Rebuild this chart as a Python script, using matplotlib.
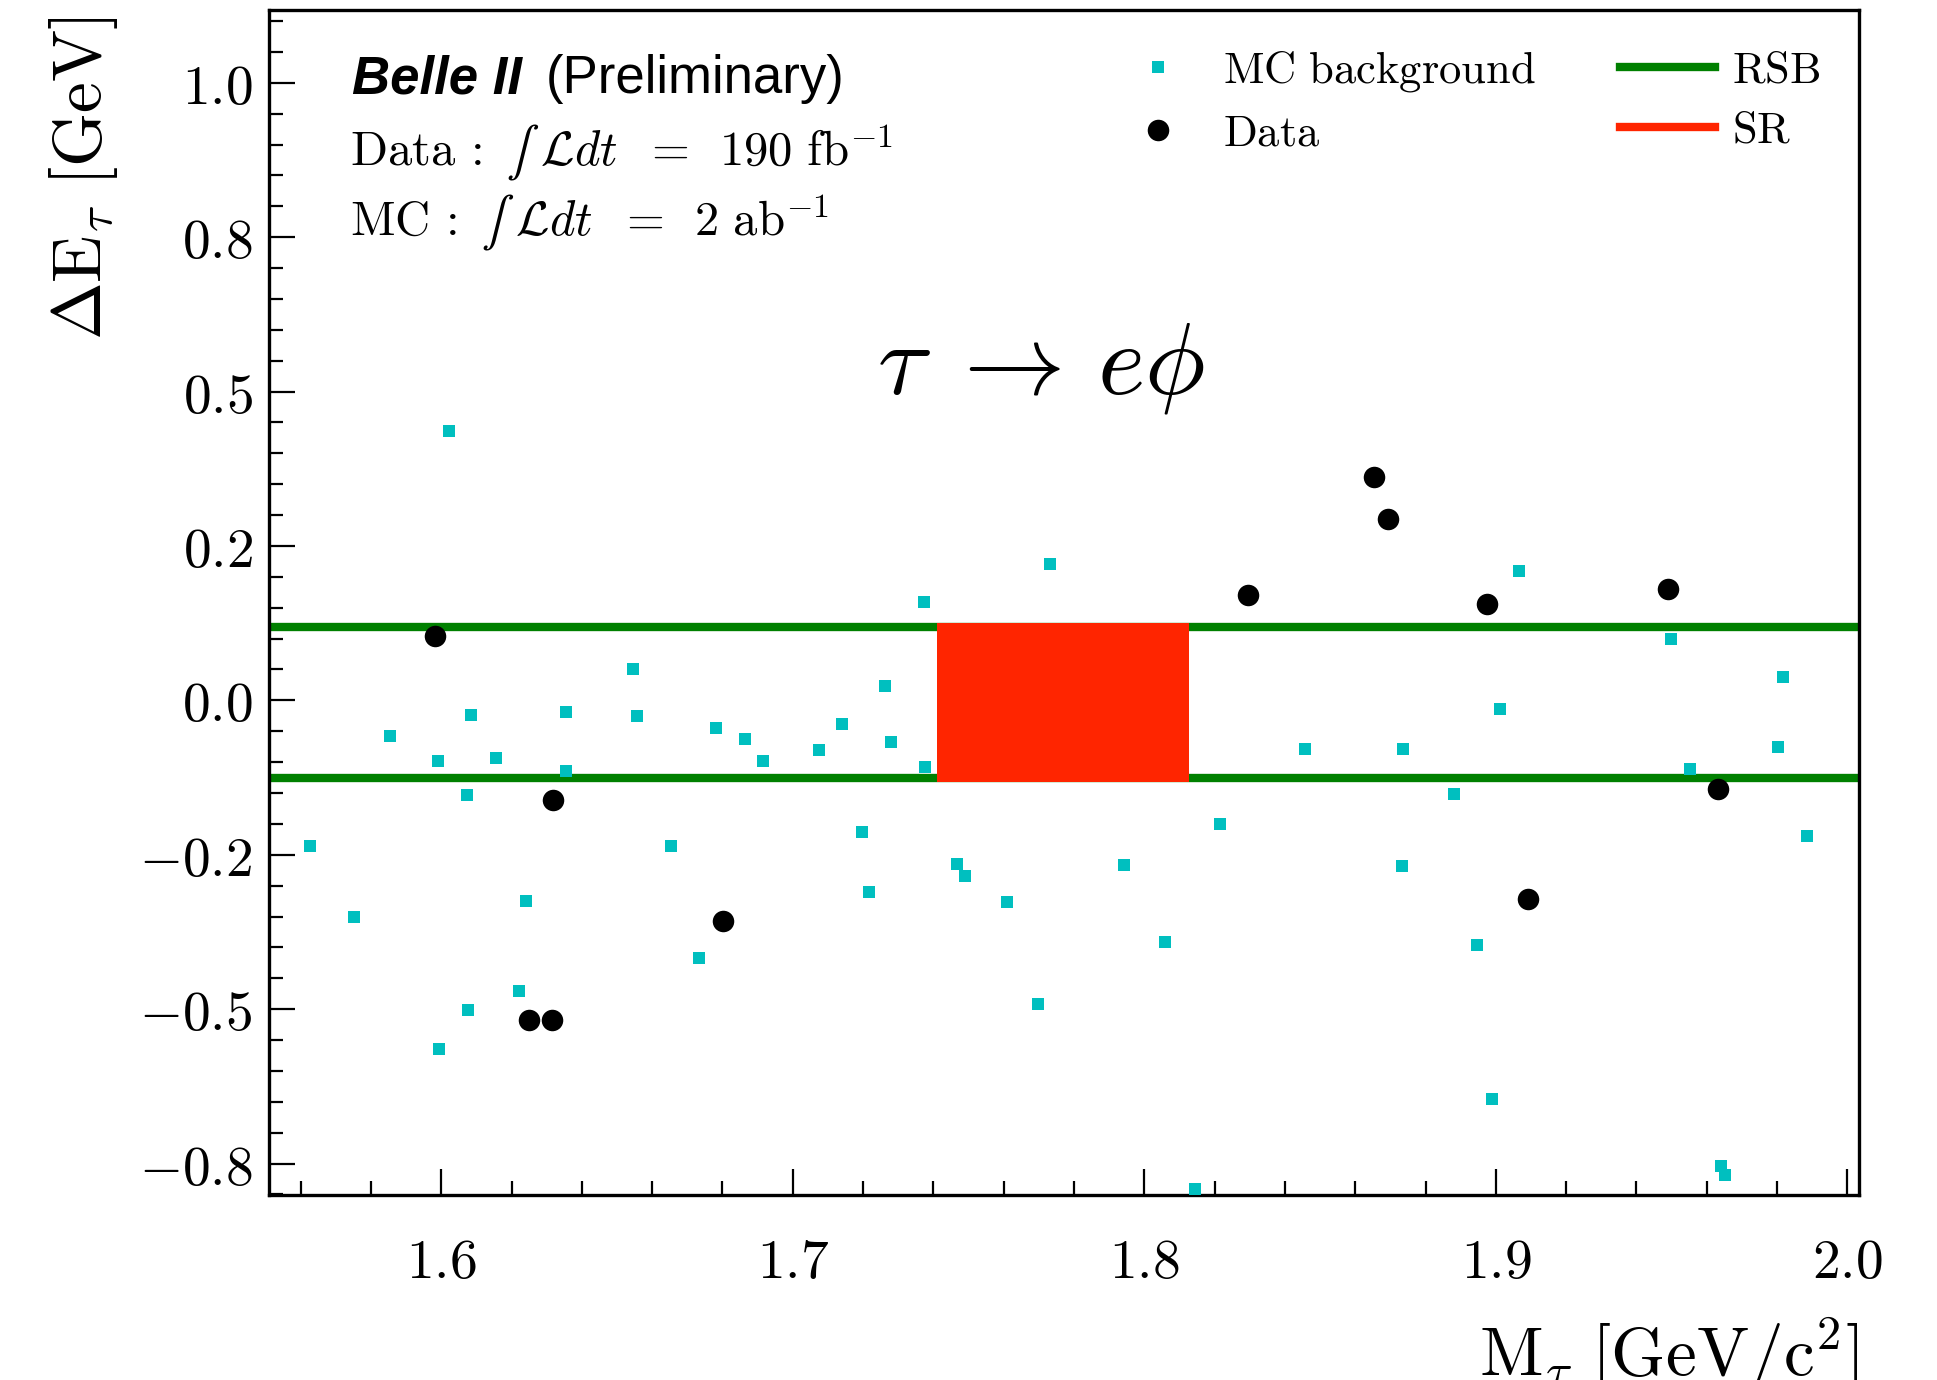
import matplotlib
matplotlib.use("Agg")
import matplotlib.pyplot as plt
from matplotlib.ticker import MultipleLocator, FormatStrFormatter
from matplotlib.lines import Line2D

plt.rcParams['mathtext.fontset'] = 'cm'

# MC background (cyan squares)
mc_mass = [1.6022, 1.7733, 1.7374, 1.6546, 1.7263, 1.6084, 1.6356, 1.6557, 1.5853, 1.6781,
           1.7139, 1.6864, 1.7279, 1.5990, 1.6155, 1.6914, 1.7076, 1.6354, 1.7377, 1.6074,
           1.7196, 1.9065, 1.9497, 1.9816, 1.9011, 1.8457, 1.8737, 1.9802, 1.9553, 1.8882,
           1.8216, 1.9884, 1.5627, 1.6654, 1.5752, 1.6242, 1.7468, 1.7491, 1.7218, 1.7610,
           1.6733, 1.6222, 1.6075, 1.7698, 1.5995, 1.7941, 1.8733, 1.8059, 1.8946, 1.8988,
           1.8143, 1.9641, 1.9651]
mc_de = [0.436, 0.221, 0.160, 0.050, 0.024, -0.023, -0.019, -0.026, -0.057, -0.045,
         -0.038, -0.063, -0.067, -0.098, -0.093, -0.098, -0.080, -0.115, -0.108, -0.153,
         -0.213, 0.209, 0.100, 0.037, -0.014, -0.079, -0.079, -0.076, -0.111, -0.152,
         -0.201, -0.220, -0.236, -0.236, -0.351, -0.325, -0.265, -0.284, -0.311, -0.326,
         -0.418, -0.470, -0.501, -0.492, -0.564, -0.267, -0.268, -0.392, -0.396, -0.645,
         -0.792, -0.754, -0.769]

# data (black circles)
data_mass = [1.5981, 1.6318, 1.8653, 1.8694, 1.8294, 1.8974, 1.9489, 1.9633,
             1.6250, 1.6316, 1.6803, 1.9091]
data_de = [0.105, -0.161, 0.361, 0.293, 0.170, 0.156, 0.181, -0.144,
           -0.518, -0.518, -0.357, -0.321]

# regions
rsb_levels = [0.1195, -0.1252]
sr_mass = [1.7411, 1.8126]
sr_de_low = -0.1325
sr_de_high = 0.126

fig = plt.figure(figsize=(19.37, 13.80), dpi=100)
ax = fig.add_axes([0.13903, 0.13435, 0.82070, 0.85848])

for lev in rsb_levels:
    ax.axhline(lev, color='green', lw=6, zorder=2)
ax.fill_between(sr_mass, sr_de_low, sr_de_high, color='#ff2500', lw=0, zorder=3)

ax.scatter(mc_mass, mc_de, marker='s', s=70, color='#00bfbf', lw=0, zorder=4)
ax.scatter(data_mass, data_de, marker='o', s=240, color='black', lw=0, zorder=5)

ax.set_xlim(1.5511, 2.0033)
ax.set_ylim(-0.8003, 1.118)

ax.xaxis.set_major_locator(MultipleLocator(0.1))
ax.xaxis.set_minor_locator(MultipleLocator(0.02))
ax.yaxis.set_major_locator(MultipleLocator(0.25))
ax.yaxis.set_minor_locator(MultipleLocator(0.05))
ax.xaxis.set_major_formatter(FormatStrFormatter(r'$%.1f$'))
ax.yaxis.set_major_formatter(FormatStrFormatter(r'$%.1f$'))

ax.tick_params(which='both', direction='in', top=False, right=False, labelsize=40, width=1.6)
ax.tick_params(which='major', length=19)
ax.tick_params(which='minor', length=10)
ax.tick_params(axis='x', which='major', pad=30)
ax.tick_params(axis='y', which='major', pad=12)
for sp in ax.spines.values():
    sp.set_linewidth(2.4)

ax.set_xlabel(r'$\mathrm{M}_{\tau}\ [\mathrm{GeV/c}^2]$', fontsize=50, loc='right')
ax.set_ylabel(r'$\Delta\mathrm{E}_{\tau}\ [\mathrm{GeV}]$', fontsize=50, loc='top')
ax.xaxis.set_label_coords(1.0, -0.102)
ax.yaxis.set_label_coords(-0.094, 0.995)

# annotations
ax.text(0.0519, 0.9296, 'Belle II', transform=ax.transAxes, fontsize=38,
        family='Liberation Sans', weight='bold', style='italic', va='baseline')
ax.text(0.1740, 0.9296, '(Preliminary)', transform=ax.transAxes, fontsize=38,
        family='Liberation Sans', va='baseline')
ax.text(0.0505, 0.869,
        '$\\mathrm{Data}\\,:\\ \u222b\\;\\mathcal{L}dt\\ \\;=\\ \\,190\\ \\mathrm{fb}^{-1}$',
        transform=ax.transAxes, fontsize=35, va='baseline')
ax.text(0.0505, 0.810,
        '$\\mathrm{MC}\\,:\\ \u222b\\;\\mathcal{L}dt\\ \\;=\\ \\,2\\ \\mathrm{ab}^{-1}$',
        transform=ax.transAxes, fontsize=35, va='baseline')
ax.text(0.4854, 0.6766, r'$\tau\;\rightarrow\,e\phi$', transform=ax.transAxes,
        fontsize=73, ha='center', va='baseline')

handles = [
    Line2D([], [], ls='none', marker='s', ms=8.3, color='#00bfbf', mew=0),
    Line2D([], [], ls='none', marker='o', ms=15.5, color='black', mew=0),
    Line2D([], [], color='green', lw=6),
    Line2D([], [], color='#ff2500', lw=6),
]
labels = [r'$\mathrm{MC\ background}$', r'$\mathrm{Data}$', r'$\mathrm{RSB}$', r'$\mathrm{SR}$']
ax.legend(handles, labels, ncol=2, loc='upper right', bbox_to_anchor=(0.9755, 0.967),
          frameon=False, fontsize=32, handlelength=2.15, handletextpad=0.37,
          columnspacing=1.9, labelspacing=0.38, borderpad=0, borderaxespad=0)

fig.savefig('out.png', dpi=100)
